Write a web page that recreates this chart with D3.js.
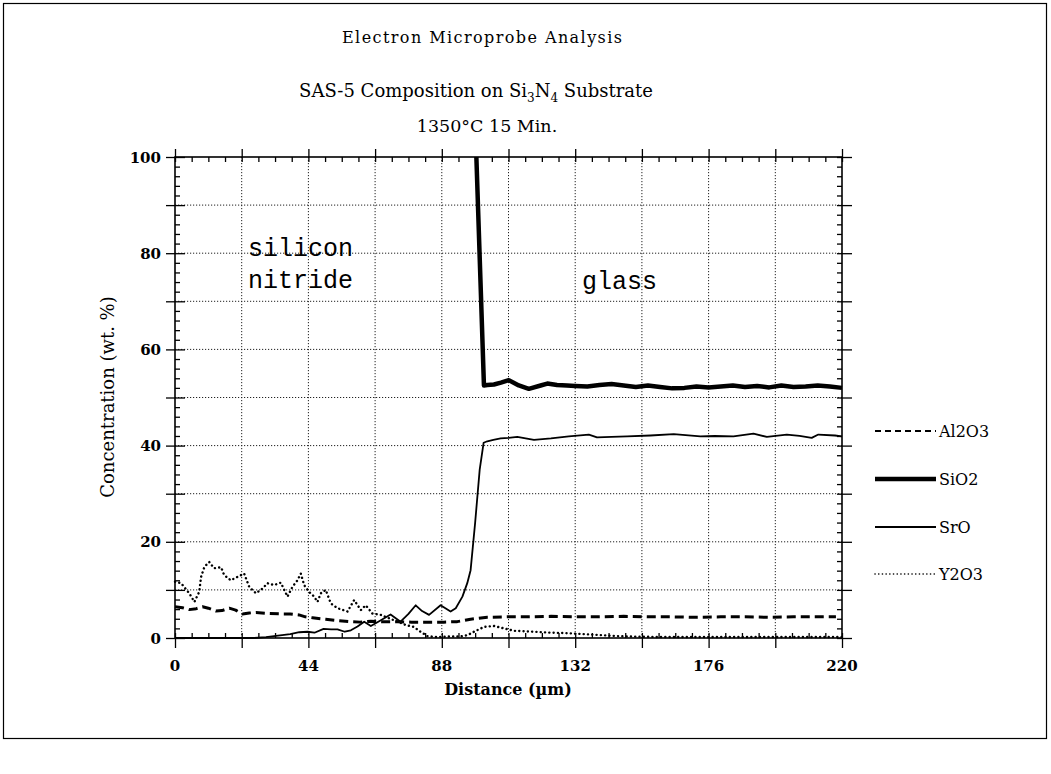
<!DOCTYPE html>
<html>
<head>
<meta charset="utf-8">
<script src="https://cdn.jsdelivr.net/npm/d3@7"></script>
<style>
  html, body { margin: 0; padding: 0; background: #fff; }
  svg { display: block; }
</style>
</head>
<body>
<script>
// ---------- data ----------
const xTickLabels = [0, 44, 88, 132, 176, 220];
const yTickLabels = [0, 20, 40, 60, 80, 100];
const seriesNames = ["Al2O3", "SiO2", "SrO", "Y2O3"];

const al2o3X = [0,2.5,4.7,7,9.1,11,13.5,15.5,17.9,20,22.3,24.5,26.7,31.1,35.5,38,40.9,43,45.4,49.7,54.1,58,61,64.6,68,73.3,78,82.1,88.7,93.1,97.5,103,109.6,116,124,132,140,148,156,164,172,180,188,196,204,212,218];
const al2o3Y = [6.5,6.3,5.9,6.1,6.5,6.2,5.6,5.7,6.2,5.8,5.0,5.2,5.3,5.1,5.0,5.0,4.8,4.4,4.2,3.9,3.6,3.4,3.3,3.5,3.4,3.4,3.3,3.3,3.3,3.4,3.9,4.3,4.4,4.4,4.5,4.4,4.4,4.5,4.4,4.4,4.3,4.4,4.4,4.3,4.4,4.4,4.4];

const sio2X = [99.4,101.9,103,105.2,107.5,110.1,113.4,116.7,120.6,122.8,126,129.3,132,136,140,144,148,152,156,160,164,168,172,176,180,184,188,192,196,200,204,208,212,216,220];
const sio2Y = [100,52.5,52.6,52.7,53.1,53.6,52.5,51.8,52.5,52.9,52.6,52.5,52.4,52.3,52.6,52.8,52.5,52.2,52.5,52.2,51.9,52.0,52.3,52.1,52.3,52.5,52.2,52.4,52.1,52.5,52.2,52.3,52.5,52.3,52.0];

const sroX = [0,26,30,34,38,41,43.7,46,49,51.5,53.6,56,58,60.2,62.4,64.6,67.9,71.1,74.4,77,79.4,81.5,83.8,87.6,90.9,92.6,94.8,96.4,97.5,99,100.5,101.8,103,105,107.4,110,112.9,118.4,124,129.9,136.5,139.2,144,149.1,156.8,164.5,173.3,178,184.2,190.8,195.2,201.8,206,210,212.2,217.7,220];
const sroY = [0,0,0.2,0.5,0.8,1.2,1.3,1.1,1.9,1.8,1.8,1.3,1.6,2.4,3.4,2.5,3.7,4.9,3.4,5.0,6.8,5.6,4.8,6.8,5.5,6.2,8.6,11.4,14.1,24,35,40.6,40.9,41.2,41.5,41.6,41.8,41.2,41.5,41.9,42.3,41.7,41.8,41.9,42.1,42.4,41.9,42.0,41.9,42.5,41.8,42.3,42.0,41.6,42.3,42.1,41.9];

const y2o3X = [0,2,4.7,6.4,8,8.6,9.7,11.3,12.9,15.2,16.2,18.4,20.6,22.8,24.5,26.7,28.9,30.5,32.7,34.9,37.1,38.8,40.4,41.5,42.6,44.2,45.9,47,48.1,49.7,51.4,53.6,56.9,59.1,61.3,62.9,65.1,67.9,70.6,73.4,76.1,78.8,81,83.2,86,90,94,96.5,98.6,101.9,105.2,108.5,111.8,118.3,124,129.3,135,140.3,146,151.3,160,170,180,190,200,210,220];
const y2o3Y = [11.7,11.4,9.3,7.5,9.6,12.7,14.8,15.8,14.5,14.7,13.1,12,12.7,13.4,10.6,9.3,10.3,11.4,11,11.5,8.6,10.7,12,13.4,11,9.6,8.6,7.5,9.3,10,7.2,6.2,5.5,7.9,5.8,6.8,5.1,4.8,4.1,3.4,2.7,2.3,1.3,0.4,0.2,0.3,0.3,0.6,1.3,2.3,2.5,2.0,1.5,1.3,1.1,1.0,0.8,0.6,0.4,0.3,0.2,0.2,0.2,0.2,0.2,0.2,0.2];

// ---------- layout ----------
const W = 1051, H = 774;
const plot = { left: 175, right: 842, top: 157, bottom: 638 };
const serif = "'DejaVu Serif', 'Liberation Serif', serif";
const mono = "'Liberation Mono', 'Courier New', monospace";

const svg = d3.select("body").append("svg").attr("width", W).attr("height", H);

// outer frame
svg.append("rect").attr("x", 3.5).attr("y", 3.5).attr("width", 1043).attr("height", 735)
  .attr("fill", "none").attr("stroke", "#000").attr("stroke-width", 1.2);

const x = d3.scaleLinear().domain([0, 220]).range([plot.left, plot.right]);
const y = d3.scaleLinear().domain([0, 100]).range([plot.bottom, plot.top]);

// gridlines
const grid = svg.append("g").attr("stroke", "#222").attr("stroke-width", 1).attr("stroke-dasharray", "1.2 1.8");
d3.range(10, 100, 10).forEach(v => {
  grid.append("line").attr("x1", plot.left).attr("x2", plot.right).attr("y1", y(v)).attr("y2", y(v));
});
d3.range(22, 220, 22).forEach(v => {
  grid.append("line").attr("y1", plot.top).attr("y2", plot.bottom).attr("x1", x(v)).attr("x2", x(v));
});

// axes built from d3 axis generators
function styleAxis(g) {
  g.select(".domain").remove();
  g.selectAll("line").attr("stroke", "#000").attr("stroke-width", 1.3);
}
const yMajor = d3.range(0, 101, 10), yMinor = d3.range(0, 101, 2).filter(v => v % 10 !== 0);
const xMajor = d3.range(0, 221, 22), xMinor = d3.range(0, 220.1, 5.5).filter(v => Math.abs(v / 22 - Math.round(v / 22)) > 1e-6);

// left axis
svg.append("g").attr("transform", `translate(${plot.left},0)`)
  .call(d3.axisLeft(y).tickValues(yMajor).tickSizeInner(9).tickSizeOuter(0).tickFormat(""))
  .call(styleAxis)
  .call(g => g.selectAll(".tick line").attr("x2", 10).attr("x1", -9));
svg.append("g").attr("transform", `translate(${plot.left},0)`)
  .call(d3.axisRight(y).tickValues(yMinor).tickSize(5).tickSizeOuter(0).tickFormat(""))
  .call(styleAxis);
// right axis
svg.append("g").attr("transform", `translate(${plot.right},0)`)
  .call(d3.axisRight(y).tickValues(yMajor).tickSizeOuter(0).tickFormat(""))
  .call(styleAxis)
  .call(g => g.selectAll(".tick line").attr("x1", -5).attr("x2", 10));
svg.append("g").attr("transform", `translate(${plot.right},0)`)
  .call(d3.axisLeft(y).tickValues(yMinor).tickSize(5).tickSizeOuter(0).tickFormat(""))
  .call(styleAxis);
// bottom axis
svg.append("g").attr("transform", `translate(0,${plot.bottom})`)
  .call(d3.axisBottom(x).tickValues(xMajor).tickSizeOuter(0).tickFormat(""))
  .call(styleAxis)
  .call(g => g.selectAll(".tick line").attr("y1", -5).attr("y2", 10));
svg.append("g").attr("transform", `translate(0,${plot.bottom})`)
  .call(d3.axisTop(x).tickValues(xMinor).tickSize(5).tickSizeOuter(0).tickFormat(""))
  .call(styleAxis);
// top axis
svg.append("g").attr("transform", `translate(0,${plot.top})`)
  .call(d3.axisTop(x).tickValues(xMajor).tickSizeOuter(0).tickFormat(""))
  .call(styleAxis)
  .call(g => g.selectAll(".tick line").attr("y1", 5).attr("y2", -8));
svg.append("g").attr("transform", `translate(0,${plot.top})`)
  .call(d3.axisBottom(x).tickValues(xMinor).tickSize(5).tickSizeOuter(0).tickFormat(""))
  .call(styleAxis);

// axis lines (frame of plot)
svg.append("rect").attr("x", plot.left).attr("y", plot.top)
  .attr("width", plot.right - plot.left).attr("height", plot.bottom - plot.top)
  .attr("fill", "none").attr("stroke", "#000").attr("stroke-width", 1.6);

// tick labels
svg.append("g").selectAll("text").data(yTickLabels).join("text")
  .attr("x", 161).attr("y", d => y(d) + 5.5)
  .attr("text-anchor", "end").attr("font-family", serif).attr("font-size", 15).attr("font-weight", "bold")
  .text(d => d);
svg.append("g").selectAll("text").data(xTickLabels).join("text")
  .attr("x", d => x(d)).attr("y", 671)
  .attr("text-anchor", "middle").attr("font-family", serif).attr("font-size", 15).attr("font-weight", "bold")
  .text(d => d);

// axis titles
svg.append("text").attr("x", 508).attr("y", 695).attr("text-anchor", "middle")
  .attr("font-family", serif).attr("font-size", 16).attr("font-weight", "bold")
  .text("Distance (\u00b5m)");
svg.append("text").attr("transform", "translate(114,397) rotate(-90)").attr("text-anchor", "middle")
  .attr("font-family", serif).attr("font-size", 18)
  .text("Concentration (wt. %)");

// titles
svg.append("text").attr("x", 482).attr("y", 43).attr("text-anchor", "middle")
  .attr("font-family", serif).attr("font-size", 16)
  .attr("textLength", 280).attr("lengthAdjust", "spacing")
  .text("Electron Microprobe Analysis");
const sub = svg.append("text").attr("x", 476).attr("y", 97).attr("text-anchor", "middle")
  .attr("font-family", serif).attr("font-size", 18);
sub.append("tspan").text("SAS-5 Composition on Si");
sub.append("tspan").attr("font-size", 12).attr("dy", 5).text("3");
sub.append("tspan").attr("dy", -5).text("N");
sub.append("tspan").attr("font-size", 12).attr("dy", 5).text("4");
sub.append("tspan").attr("dy", -5).text(" Substrate");
svg.append("text").attr("x", 487).attr("y", 132).attr("text-anchor", "middle")
  .attr("font-family", serif).attr("font-size", 17.5)
  .text("1350\u00b0C 15 Min.");

// annotations
svg.append("text").attr("x", 248).attr("y", 256).attr("font-family", mono).attr("font-size", 25).text("silicon");
svg.append("text").attr("x", 248).attr("y", 288).attr("font-family", mono).attr("font-size", 25).text("nitride");
svg.append("text").attr("x", 582).attr("y", 289).attr("font-family", mono).attr("font-size", 25).text("glass");

// series
const styles = {
  Al2O3: { w: 3, dash: "9 5", cap: "butt" },
  SiO2: { w: 4.5, dash: null, cap: "butt" },
  SrO: { w: 1.8, dash: null, cap: "butt" },
  Y2O3: { w: 2.4, dash: "0.1 4.2", cap: "round" }
};
const seriesData = {
  Al2O3: al2o3X.map((d, i) => [d, al2o3Y[i]]),
  SiO2: sio2X.map((d, i) => [d, sio2Y[i]]),
  SrO: sroX.map((d, i) => [d, sroY[i]]),
  Y2O3: y2o3X.map((d, i) => [d, y2o3Y[i]])
};
const line = d3.line().x(d => x(d[0])).y(d => y(d[1])).curve(d3.curveLinear);
["Y2O3", "Al2O3", "SrO", "SiO2"].forEach(name => {
  const s = styles[name];
  svg.append("path").datum(seriesData[name]).attr("d", line)
    .attr("fill", "none").attr("stroke", "#000").attr("stroke-width", s.w)
    .attr("stroke-linejoin", "round").attr("stroke-linecap", s.cap)
    .attr("stroke-dasharray", s.dash);
});

// legend
const legY = [431, 479, 527, 574];
const leg = svg.append("g");
seriesNames.forEach((name, i) => {
  const s = styles[name];
  leg.append("line").attr("x1", 875).attr("x2", 936).attr("y1", legY[i]).attr("y2", legY[i])
    .attr("stroke", "#000").attr("stroke-width", name === "Al2O3" ? 2 : (name === "Y2O3" ? 1.6 : s.w))
    .attr("stroke-linecap", s.cap)
    .attr("stroke-dasharray", name === "Al2O3" ? "6 4" : (name === "Y2O3" ? "0.1 3.6" : null));
  leg.append("text").attr("x", 939).attr("y", legY[i] + 6).attr("font-family", serif).attr("font-size", 16)
    .text(name);
});
</script>
</body>
</html>
